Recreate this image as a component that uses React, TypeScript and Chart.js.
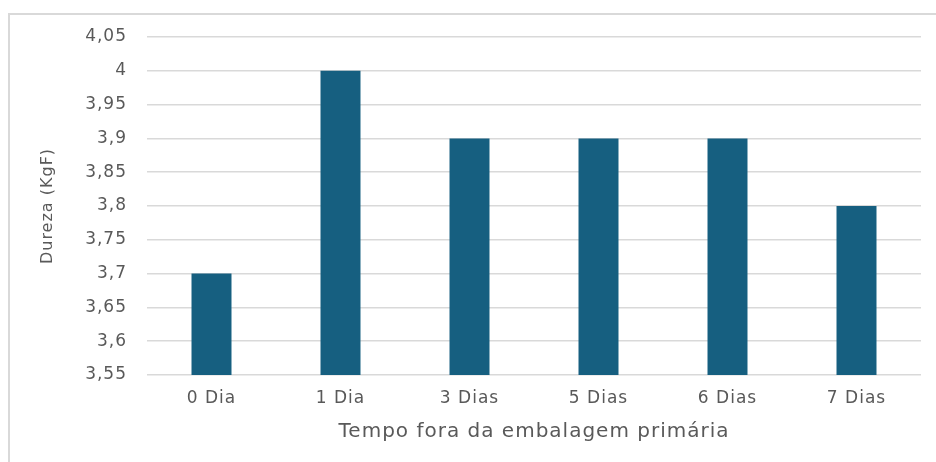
import React, { useEffect, useRef } from "react";
import { Chart, registerables } from "chart.js";

Chart.register(...registerables);

const categories = ["0 Dia", "1 Dia", "3 Dias", "5 Dias", "6 Dias", "7 Dias"];
const durezaValues = [3.7, 4.0, 3.9, 3.9, 3.9, 3.8];
const yTicks = [3.55, 3.6, 3.65, 3.7, 3.75, 3.8, 3.85, 3.9, 3.95, 4.0, 4.05];
const xTitle = "Tempo fora da embalagem primária";
const yTitle = "Dureza (KgF)";

const FONT = "'DejaVu Sans', sans-serif";
const TEXT = "#595959";

const spacingPlugin = {
  id: "spacing",
  beforeUpdate(chart: any) {
    chart.ctx.letterSpacing = "1px";
  },
  beforeDraw(chart: any) {
    const ctx = chart.ctx;
    ctx.letterSpacing = "1px";
    ctx.save();
    ctx.fillStyle = "#ffffff";
    ctx.fillRect(0, 0, chart.width, chart.height);
    ctx.strokeStyle = "#d9d9d9";
    ctx.lineWidth = 2;
    ctx.strokeRect(9, 14, chart.width + 20, chart.height + 20);
    ctx.restore();
  },
};

export default function App() {
  const ref = useRef<HTMLCanvasElement | null>(null);
  useEffect(() => {
    if (!ref.current) return;
    const chart = new Chart(ref.current, {
      type: "bar",
      data: {
        labels: categories,
        datasets: [
          {
            data: durezaValues,
            backgroundColor: "#165f80",
            categoryPercentage: 1,
            barPercentage: 0.31,
          },
        ],
      },
      options: {
        animation: false,
        responsive: false,
        devicePixelRatio: 1,
        layout: { padding: { top: 37, right: 15, left: 0, bottom: 0 } },
        plugins: { legend: { display: false }, tooltip: { enabled: false } },
        scales: {
          x: {
            grid: { display: false, drawTicks: false },
            border: { display: false },
            ticks: { color: TEXT, font: { family: FONT, size: 17 }, padding: 13 },
            title: {
              display: true,
              text: xTitle,
              color: TEXT,
              font: { family: FONT, size: 20 },
              padding: { top: 0, bottom: 18 },
            },
            afterFit(scale: any) {
              scale.height = 87;
            },
          },
          y: {
            min: 3.55,
            max: 4.05,
            grid: { color: "#d9d9d9", lineWidth: 1.5, drawTicks: false },
            border: { display: false },
            afterBuildTicks(scale: any) {
              scale.ticks = yTicks.map((v) => ({ value: v }));
            },
            ticks: {
              color: TEXT,
              font: { family: FONT, size: 17 },
              padding: 20,
              callback: (v: any) =>
                String(parseFloat(Number(v).toFixed(2))).replace(".", ","),
            },
            title: {
              display: true,
              text: yTitle,
              color: TEXT,
              font: { family: FONT, size: 16 },
              padding: { top: 38, bottom: 0 },
            },
            afterFit(scale: any) {
              scale.width = 147;
            },
          },
        },
      },
      plugins: [spacingPlugin],
    });
    return () => chart.destroy();
  }, []);
  return (
    <div style={{ position: "absolute", left: 0, top: 0, width: 936, height: 462 }}>
      <canvas ref={ref} width={936} height={462} style={{ width: 936, height: 462 }} />
    </div>
  );
}
